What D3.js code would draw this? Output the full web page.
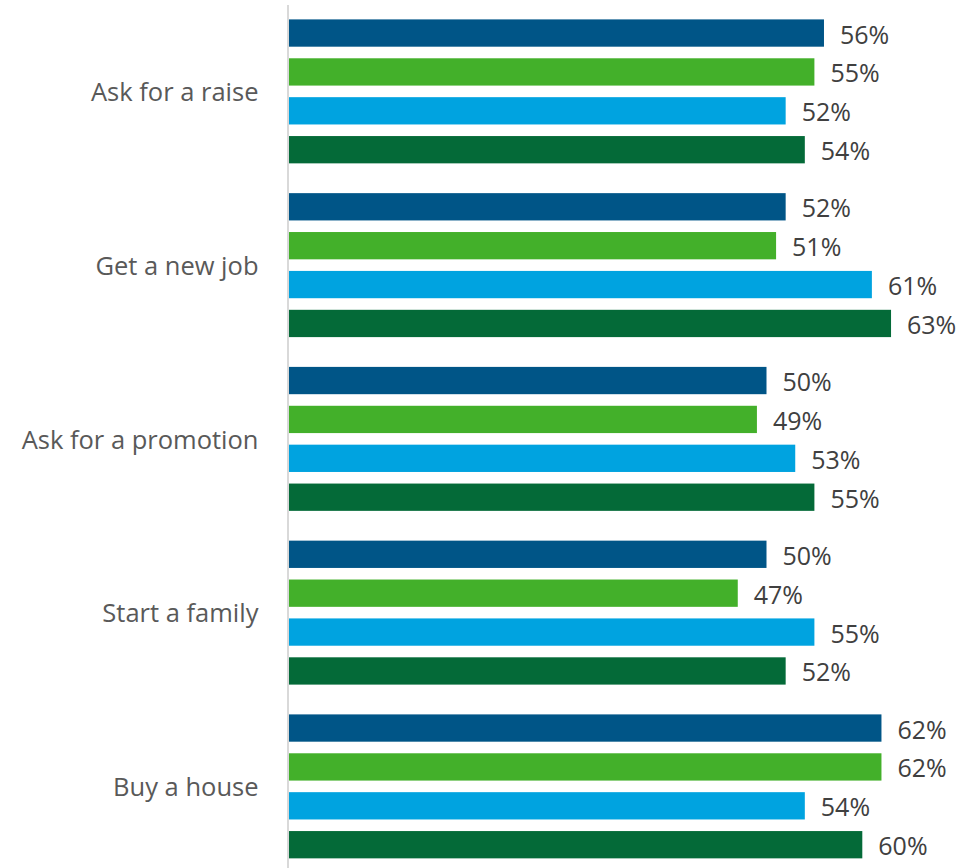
<!DOCTYPE html>
<html>
<head>
<meta charset="utf-8">
<script src="https://cdn.jsdelivr.net/npm/d3@7"></script>
<style>
  html, body { margin: 0; padding: 0; background: #fff; }
  svg { display: block; }
</style>
</head>
<body>
<svg id="chart" width="974" height="868"></svg>
<script>
const categories = ["Ask for a raise", "Get a new job", "Ask for a promotion", "Start a family", "Buy a house"];
const seriesNames = ["Series 1", "Series 2", "Series 3", "Series 4"];
const series1 = [56, 52, 50, 50, 62];
const series2 = [55, 51, 49, 47, 62];
const series3 = [52, 61, 53, 55, 54];
const series4 = [54, 63, 55, 52, 60];
const colors = ["#005587", "#43B02A", "#00A3E0", "#046A38"];

const seriesValues = [series1, series2, series3, series4];
const data = categories.map((c, i) => ({
  category: c,
  values: seriesValues.map((s, j) => ({ key: seriesNames[j], value: s[i], color: colors[j] }))
}));

const svg = d3.select("#chart");
const axisX = 287.5;

const x = d3.scaleLinear().domain([0, 100]).range([axisX, axisX + 958]);
const y0 = d3.scaleBand().domain(categories).range([4.5, 4.5 + 173.75 * 5]).padding(0);
const y1 = d3.scaleBand().domain(seriesNames).range([0, y0.bandwidth()])
  .paddingInner(0.298).paddingOuter(0.383);

const groups = svg.append("g").selectAll("g")
  .data(data).join("g")
  .attr("transform", d => `translate(0,${y0(d.category)})`);

groups.selectAll("rect")
  .data(d => d.values).join("rect")
  .attr("x", x(0))
  .attr("y", d => y1(d.key))
  .attr("width", d => x(d.value) - x(0))
  .attr("height", y1.bandwidth())
  .attr("fill", d => d.color);

groups.selectAll("text.val")
  .data(d => d.values).join("text")
  .attr("class", "val")
  .attr("x", d => x(d.value) + 16)
  .attr("y", d => y1(d.key) + y1.bandwidth() / 2)
  .attr("dy", "0.42em")
  .attr("font-family", "'Open Sans', sans-serif")
  .attr("font-size", 25)
  .attr("fill", "#404040")
  .text(d => d.value + "%");

// category axis
const yAxis = d3.axisLeft(y0).tickSize(0).tickPadding(29);
const ax = svg.append("g").attr("transform", `translate(${axisX},0)`).call(yAxis);
ax.select(".domain").attr("stroke", "#d9d9d9").attr("stroke-width", 2);
ax.selectAll(".tick text")
  .attr("font-family", "'Open Sans', sans-serif")
  .attr("font-size", 25.5)
  .attr("fill", "#595959")
  .attr("dy", "0.38em");
</script>
</body>
</html>
